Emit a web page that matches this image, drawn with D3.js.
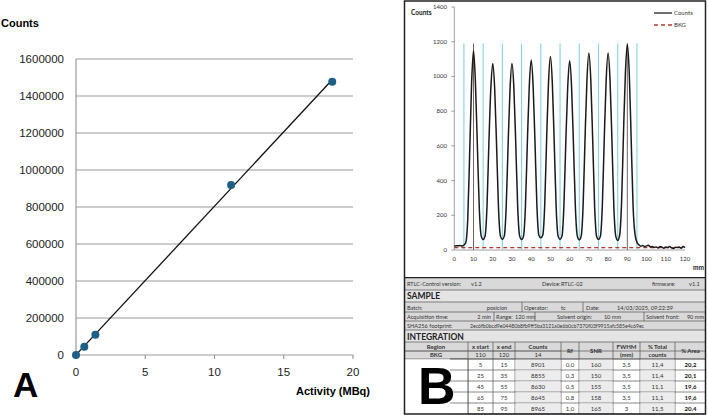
<!DOCTYPE html>
<html><head><meta charset="utf-8">
<script src="https://cdn.jsdelivr.net/npm/d3@7"></script>
<style>body{margin:0;background:#fff}svg{display:block}</style>
</head><body>
<svg id="c" width="708" height="415"></svg>
<script>
// ---------- Panel A data ----------
const activityMBq = [0, 0.6, 1.4, 11.2, 18.5];
const countsA = [0, 45000, 110000, 919000, 1477000];
const yTicksA = [0, 200000, 400000, 600000, 800000, 1000000, 1200000, 1400000, 1600000];
const xTicksA = [0, 5, 10, 15, 20];

// ---------- Panel B data ----------
const positionMM = d3.range(0, 121);
const countsB = [
  22, 25, 24, 26, 23, 28, 45, 180, 560, 960,
  1150, 960, 600, 240, 80, 60, 80, 250, 620, 930,
  1075, 930, 600, 240, 80, 62, 80, 250, 610, 930,
  1075, 930, 600, 240, 80, 60, 80, 250, 620, 945,
  1095, 945, 610, 245, 85, 70, 85, 250, 630, 965,
  1115, 960, 610, 240, 80, 62, 80, 250, 620, 940,
  1090, 940, 600, 240, 80, 58, 80, 255, 640, 980,
  1135, 980, 630, 250, 80, 60, 80, 255, 640, 980,
  1135, 980, 630, 245, 80, 55, 85, 270, 670, 1020,
  1185, 1020, 640, 250, 90, 45, 30, 22, 26, 20,
  24, 28, 18, 20, 15, 18, 12, 20, 16, 10,
  18, 14, 20, 12, 8, 16, 14, 18, 10, 20, 14
];
const bkgLevel = 14;
const yTicksB = [0, 200, 400, 600, 800, 1000, 1200, 1400];
const xTicksB = [0, 10, 20, 30, 40, 50, 60, 70, 80, 90, 100, 110, 120];
const regionStart = [5, 25, 45, 65, 85];
const regionEnd = [15, 35, 55, 75, 95];
const regionMarkTop = 1190;
const solventLines = [10, 90];

// Integration table values
const intCounts = ["8901", "8855", "8630", "8645", "8965"];
const intRf = ["0,0", "0,3", "0,5", "0,8", "1,0"];
const intSNR = ["160", "150", "155", "158", "165"];
const intFWHM = ["3,5", "3,5", "3,5", "3,5", "3"];
const intTotal = ["11,4", "11,4", "11,1", "11,1", "11,5"];
const intArea = ["20,2", "20,1", "19,6", "19,6", "20,4"];
const hashText = "2ec6fb0bcd9e04480b8fb9ff5ba3121a0e6b0cb7370f03f9915afc585e4c69ec";

const svg = d3.select("#c");

// ================= PANEL A =================
const xA = d3.scaleLinear().domain([0, 20]).range([76, 353]);
const yA = d3.scaleLinear().domain([0, 1600000]).range([355, 59]);
const A = svg.append("g").attr("font-family", "Liberation Sans, Arial, sans-serif");

A.selectAll("line.grid").data(yTicksA.filter(d => d > 0)).join("line")
  .attr("x1", xA(0)).attr("x2", xA(20)).attr("y1", d => yA(d)).attr("y2", d => yA(d))
  .attr("stroke", "#9a9a9a").attr("stroke-width", 1.2);
A.append("line").attr("x1", xA(0)).attr("x2", xA(0)).attr("y1", yA(1600000)).attr("y2", yA(0))
  .attr("stroke", "#9a9a9a").attr("stroke-width", 1.2);
A.append("line").attr("x1", xA(0)).attr("x2", xA(20)).attr("y1", yA(0)).attr("y2", yA(0))
  .attr("stroke", "#9a9a9a").attr("stroke-width", 1.2);
A.selectAll("line.tk").data(xTicksA).join("line")
  .attr("x1", d => xA(d)).attr("x2", d => xA(d)).attr("y1", yA(0)).attr("y2", yA(0) + 4)
  .attr("stroke", "#9a9a9a").attr("stroke-width", 1.2);
A.selectAll("text.yl").data(yTicksA).join("text")
  .attr("x", 64).attr("y", d => yA(d) + 4).attr("text-anchor", "end")
  .attr("font-size", 11.5).attr("fill", "#222").text(d => d);
A.selectAll("text.xl").data(xTicksA).join("text")
  .attr("x", d => xA(d)).attr("y", 376).attr("text-anchor", "middle")
  .attr("font-size", 11.5).attr("fill", "#222").text(d => d);
A.append("text").attr("x", 1).attr("y", 27).attr("font-size", 11).attr("font-weight", "bold").text("Counts");
A.append("text").attr("x", 370).attr("y", 395).attr("text-anchor", "end").attr("font-size", 11)
  .attr("font-weight", "bold").text("Activity (MBq)");
A.append("text").attr("x", 13).attr("y", 397).attr("font-size", 35).attr("font-weight", "bold").text("A");

// linear trendline (least squares fit of the data)
const mx = d3.mean(activityMBq), my = d3.mean(countsA);
const slope = d3.sum(activityMBq, (x, i) => (x - mx) * (countsA[i] - my)) / d3.sum(activityMBq, x => (x - mx) ** 2);
const icpt = my - slope * mx;
const tx = [0, d3.max(activityMBq)];
A.append("line").attr("x1", xA(tx[0])).attr("y1", yA(icpt + slope * tx[0]))
  .attr("x2", xA(tx[1])).attr("y2", yA(icpt + slope * tx[1]))
  .attr("stroke", "#111").attr("stroke-width", 1.3);
A.selectAll("circle").data(activityMBq).join("circle")
  .attr("cx", d => xA(d)).attr("cy", (d, i) => yA(countsA[i])).attr("r", 4)
  .attr("fill", "#1d5f86");

// ================= PANEL B =================
const B = svg.append("g").attr("font-family", "Lato, 'Liberation Sans', sans-serif");
const xB = d3.scaleLinear().domain([0, 120]).range([454.3, 685]);
const yB = d3.scaleLinear().domain([0, 1400]).range([250, 7]);

// axes
B.append("line").attr("x1", xB(0)).attr("x2", xB(0)).attr("y1", yB(1400)).attr("y2", yB(0)).attr("stroke", "#888").attr("stroke-width", 0.8);
B.append("line").attr("x1", xB(0)).attr("x2", xB(120)).attr("y1", yB(0)).attr("y2", yB(0)).attr("stroke", "#888").attr("stroke-width", 0.8);
B.selectAll("line.ytk").data(yTicksB).join("line").attr("x1", xB(0) - 3).attr("x2", xB(0))
  .attr("y1", d => yB(d)).attr("y2", d => yB(d)).attr("stroke", "#888").attr("stroke-width", 0.8);
B.selectAll("text.yb").data(yTicksB).join("text").attr("x", 447).attr("y", d => yB(d) + 2)
  .attr("text-anchor", "end").attr("font-size", 6).attr("fill", "#333").text(d => d);
B.selectAll("text.xb").data(xTicksB).join("text").attr("x", d => xB(d)).attr("y", 261)
  .attr("text-anchor", "middle").attr("font-size", 6).attr("fill", "#333").text(d => d);
B.append("text").attr("x", 411).attr("y", 15).attr("font-size", 6.5).attr("font-weight", "bold").attr("fill", "#222").text("Counts");
B.append("text").attr("x", 693).attr("y", 270).attr("font-size", 6.5).attr("font-weight", "bold").attr("fill", "#222").text("mm");

// solvent lines
B.selectAll("line.sol").data(solventLines).join("line")
  .attr("x1", d => xB(d)).attr("x2", d => xB(d)).attr("y1", yB(0)).attr("y2", yB(regionMarkTop))
  .attr("stroke", "#555").attr("stroke-width", 0.9);
// region boundaries
const bounds = regionStart.concat(regionEnd);
B.selectAll("line.reg").data(bounds).join("line")
  .attr("x1", d => xB(d)).attr("x2", d => xB(d)).attr("y1", yB(0)).attr("y2", yB(regionMarkTop))
  .attr("stroke", "#7fd3ea").attr("stroke-width", 1.1);
// BKG
B.append("line").attr("x1", xB(0)).attr("x2", xB(120)).attr("y1", yB(bkgLevel)).attr("y2", yB(bkgLevel))
  .attr("stroke", "#b03a2e").attr("stroke-width", 1.3).attr("stroke-dasharray", "4,3");
// counts line
const lineB = d3.line().x((d, i) => xB(positionMM[i])).y(d => yB(d)).curve(d3.curveMonotoneX);
B.append("path").attr("d", lineB(countsB)).attr("fill", "none").attr("stroke", "#1a1a1a").attr("stroke-width", 1.5);

// legend
B.append("line").attr("x1", 654).attr("x2", 672).attr("y1", 13).attr("y2", 13).attr("stroke", "#111").attr("stroke-width", 1.2);
B.append("text").attr("x", 674).attr("y", 15).attr("font-size", 6).attr("fill", "#333").text("Counts");
B.append("line").attr("x1", 654).attr("x2", 672).attr("y1", 25).attr("y2", 25).attr("stroke", "#b03a2e").attr("stroke-width", 1.3).attr("stroke-dasharray", "4,3");
B.append("text").attr("x", 674).attr("y", 27).attr("font-size", 6).attr("fill", "#333").text("BKG");

// ---------- table ----------
const T = svg.append("g").attr("font-family", "Lato, 'Liberation Sans', sans-serif").attr("font-size", 5.6).attr("fill", "#333");
const L = 404, R = 706;
function rect(x0, y0, x1, y1, fill) {
  T.append("rect").attr("x", x0).attr("y", y0).attr("width", x1 - x0).attr("height", y1 - y0).attr("fill", fill);
}
function hl(x0, x1, y, w) { T.append("line").attr("x1", x0).attr("x2", x1).attr("y1", y).attr("y2", y).attr("stroke", "#555").attr("stroke-width", w || 0.7); }
function vl(x, y0, y1) { T.append("line").attr("x1", x).attr("x2", x).attr("y1", y0).attr("y2", y1).attr("stroke", "#555").attr("stroke-width", 0.7); }
function tx_(x, y, s, anchor, opts) {
  const t = T.append("text").attr("x", x).attr("y", y).attr("text-anchor", anchor || "start").text(s);
  if (opts && opts.bold) t.attr("font-weight", "bold");
  if (opts && opts.size) t.attr("font-size", opts.size);
  if (opts && opts.fill) t.attr("fill", opts.fill);
  return t;
}
const rowY = [278, 290, 302, 312, 321, 330, 342, 351, 359];
rect(L, 278, R, 359, "#d9d9d9");
rect(L, 290, R, 302, "#e4e4e4");
rect(L, 330, R, 342, "#e4e4e4");
rowY.forEach(y => hl(L, R, y));
// row 1
tx_(407, 286, "RTLC-Control version:");
tx_(471, 286, "v1.2");
tx_(542, 286, "Device:");
tx_(561, 286, "RTLC-02");
tx_(652, 286, "firmware:");
tx_(689, 286, "v1.1");
tx_(407, 299, "SAMPLE", "start", {bold: true, size: 8.5, fill: "#222"});
// batch row
tx_(407, 309.5, "Batch:");
tx_(497, 309.5, "posicion", "middle");
vl(522, 302, 312); tx_(524, 309.5, "Operator:");
tx_(561, 309.5, "tc");
vl(583, 302, 312); tx_(586, 309.5, "Date:");
tx_(617, 309.5, "14/03/2025, 09:22:39");
// acquisition row
tx_(407, 319, "Acquisition time:");
tx_(491, 319, "2 min", "end");
vl(494, 312, 321); tx_(496, 319, "Range:");
tx_(515, 319, "120 mm");
vl(535, 312, 321); tx_(557, 319, "Solvent origin:");
tx_(621, 319, "10 mm", "end");
vl(644, 312, 321); tx_(646, 319, "Solvent front:");
tx_(704, 319, "90 mm", "end");
// sha
tx_(407, 328, "SHA256 footprint:");
tx_(470, 328, hashText).attr("font-size", 5.1);
tx_(407, 339.5, "INTEGRATION", "start", {bold: true, size: 8.5, fill: "#222"});

// integration header
const colE = [404, 468, 493, 515, 561, 579, 613, 640, 675, 706];
const colC = colE.slice(0, -1).map((e, i) => (e + colE[i + 1]) / 2);
colE.slice(1, -1).forEach(x => vl(x, 342, 414));
const hdr1 = ["Region", "x start", "x end", "Counts", "", "", "FWHM", "% Total", ""];
const hdr2 = ["BKG", "110", "120", "14", "", "", "(mm)", "counts", ""];
hdr1.forEach((s, i) => s && tx_(colC[i], 349, s, "middle", {bold: true, size: 6}));
hdr2.forEach((s, i) => s && tx_(colC[i], 357, s, "middle", {bold: i === 0 || i >= 6, size: 6}));
tx_(colC[4], 353, "Rf", "middle", {bold: true, size: 6});
tx_(colC[5], 353, "SNR", "middle", {bold: true, size: 6});
tx_(colC[8], 353, "% Area", "middle", {bold: true, size: 6});
[0, 1, 2, 3].forEach(i => hl(colE[i], colE[i + 1], 351, 0.5));

// data rows
const dataTop = 359, dataH = 11;
const shaded = [3, 5, 7];
regionStart.forEach((s, r) => {
  const y0 = dataTop + r * dataH;
  shaded.forEach(c => rect(colE[c] + 0.4, y0 + 0.4, colE[c + 1] - 0.4, y0 + dataH - 0.4, "#ececec"));
  const row = [null, String(s), String(regionEnd[r]), intCounts[r], intRf[r], intSNR[r], intFWHM[r], intTotal[r], intArea[r]];
  row.forEach((v, c) => v && tx_(colC[c], y0 + 8, v, "middle", {size: 6, bold: c === 8, fill: c === 8 ? "#111" : "#333"}));
  hl(450, R, y0 + dataH);
});
hl(450, R, dataTop);
T.append("rect").attr("x", 405).attr("y", dataTop + 0.5).attr("width", 62.5).attr("height", 55).attr("fill", "#fff");
colE.slice(1, 2).forEach(x => vl(x, dataTop, 414));
[0, 1, 2, 3, 4].forEach(r => hl(450, 468, dataTop + r * dataH));
svg.append("text").attr("x", 418).attr("y", 404).attr("font-family", "Liberation Sans, Arial, sans-serif")
  .attr("font-size", 52).attr("font-weight", "bold").attr("fill", "#000").text("B");

// panel B frame
svg.append("rect").attr("x", 404.5).attr("y", 1).attr("width", 301).attr("height", 413)
  .attr("fill", "none").attr("stroke", "#222").attr("stroke-width", 1.5);
svg.append("line").attr("x1", 404).attr("x2", 706).attr("y1", 277.5).attr("y2", 277.5).attr("stroke", "#222").attr("stroke-width", 1.2);
</script>
</body></html>
